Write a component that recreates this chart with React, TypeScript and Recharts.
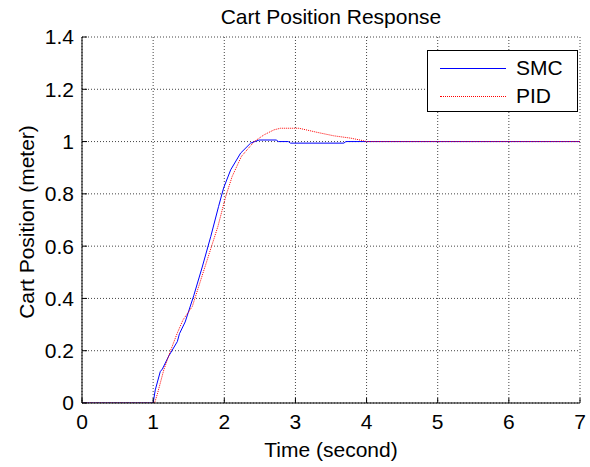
import { LineChart, Line, XAxis, YAxis, CartesianGrid, Legend } from 'recharts';

// time (s) and cart position (m)
const smcTime = [0, 1.0, 1.03, 1.1, 1.13, 1.22, 1.34, 1.37, 1.45, 1.57, 1.69, 1.81, 1.92, 1.99, 2.09, 2.23, 2.37, 2.49, 2.73, 2.76, 2.9, 2.93, 3.68, 3.71, 4.0, 7.0];
const smcPos = [0, 0, 0.05, 0.12, 0.13, 0.18, 0.235, 0.265, 0.31, 0.41, 0.52, 0.637, 0.752, 0.822, 0.892, 0.956, 0.994, 1.006, 1.006, 1.0, 1.0, 0.994, 0.994, 1.0, 1.0, 1.0];

const pidTime = [0, 1.02, 1.06, 1.15, 1.24, 1.34, 1.42, 1.55, 1.67, 1.79, 1.91, 2.02, 2.11, 2.24, 2.42, 2.56, 2.7, 2.79, 3.05, 3.31, 3.54, 3.78, 3.96, 4.0, 7.0];
const pidPos = [0, 0, 0.035, 0.127, 0.197, 0.268, 0.318, 0.369, 0.471, 0.573, 0.675, 0.79, 0.866, 0.943, 1.0, 1.026, 1.045, 1.051, 1.051, 1.035, 1.022, 1.013, 1.003, 1.0, 1.0];

const xTicks = [0, 1, 2, 3, 4, 5, 6, 7];
const yTicks = [0, 0.2, 0.4, 0.6, 0.8, 1, 1.2, 1.4];

const series = [
  { key: 'smc', name: 'SMC', color: '#0000ff', dash: undefined as string | undefined, border: 'solid' },
  { key: 'pid', name: 'PID', color: '#ff0000', dash: '1 1', border: 'dotted' },
];

const smcData = smcTime.map((t, i) => ({ t, v: smcPos[i] }));
const pidData = pidTime.map((t, i) => ({ t, v: pidPos[i] }));

const WIDTH = 590;
const HEIGHT = 467;
const FONT = '"Liberation Sans", Arial, Helvetica, sans-serif';

function LegendBox() {
  return (
    <div
      style={{
        width: 151,
        height: 62,
        border: '1px solid #000',
        background: '#fff',
        padding: '3px 0 0 12px',
        boxSizing: 'border-box',
      }}
    >
      {series.map((s) => (
        <div key={s.key} style={{ display: 'flex', alignItems: 'center', height: 28 }}>
          <div style={{ width: 66, height: 0, borderTop: `1px ${s.border} ${s.color}` }} />
          <span style={{ fontSize: 21, marginLeft: 10, color: '#000' }}>{s.name}</span>
        </div>
      ))}
    </div>
  );
}

export default function App() {
  return (
    <div style={{ position: 'absolute', left: 0, top: 0, width: WIDTH, height: HEIGHT, background: '#fff', fontFamily: FONT }}>
      <LineChart width={WIDTH} height={HEIGHT} margin={{ top: 37, right: 10, left: 0, bottom: 0 }}>
        <CartesianGrid stroke="#444" strokeDasharray="1 2" />
        <XAxis
          dataKey="t"
          type="number"
          domain={[0, 7]}
          ticks={xTicks}
          allowDataOverflow
          height={64}
          stroke="#000"
          tickSize={-5}
          tickMargin={16}
          tick={{ fill: '#000', fontSize: 21 }}
        />
        <XAxis
          xAxisId="top"
          orientation="top"
          type="number"
          domain={[0, 7]}
          ticks={xTicks}
          height={0}
          stroke="#000"
          tickSize={-5}
          tick={false}
        />
        <YAxis
          type="number"
          domain={[0, 1.4]}
          ticks={yTicks}
          allowDataOverflow
          width={82}
          stroke="#000"
          tickSize={-5}
          tickMargin={13}
          tick={{ fill: '#000', fontSize: 21 }}
        />
        <YAxis
          yAxisId="right"
          orientation="right"
          type="number"
          domain={[0, 1.4]}
          ticks={yTicks}
          width={0}
          stroke="#000"
          tickSize={-5}
          tick={false}
        />
        <Legend
          layout="vertical"
          align="center"
          verticalAlign="middle"
          wrapperStyle={{ left: 427, top: 50 }}
          content={() => <LegendBox />}
        />
        <Line
          data={smcData}
          dataKey="v"
          name="SMC"
          type="linear"
          stroke={series[0].color}
          strokeWidth={1}
          dot={false}
          isAnimationActive={false}
        />
        <Line
          data={pidData}
          dataKey="v"
          name="PID"
          type="linear"
          stroke={series[1].color}
          strokeDasharray={series[1].dash}
          strokeWidth={1}
          dot={false}
          isAnimationActive={false}
        />
      </LineChart>
      <svg
        width={WIDTH}
        height={HEIGHT}
        style={{ position: 'absolute', left: 0, top: 0, pointerEvents: 'none' }}
      >
        <text x={331} y={24} textAnchor="middle" fontSize={21} fill="#000">
          Cart Position Response
        </text>
        <text x={331} y={457} textAnchor="middle" fontSize={21} fill="#000">
          Time (second)
        </text>
        <text x={34} y={222} textAnchor="middle" fontSize={21} fill="#000" transform="rotate(-90 34 222)">
          Cart Position (meter)
        </text>
      </svg>
    </div>
  );
}
